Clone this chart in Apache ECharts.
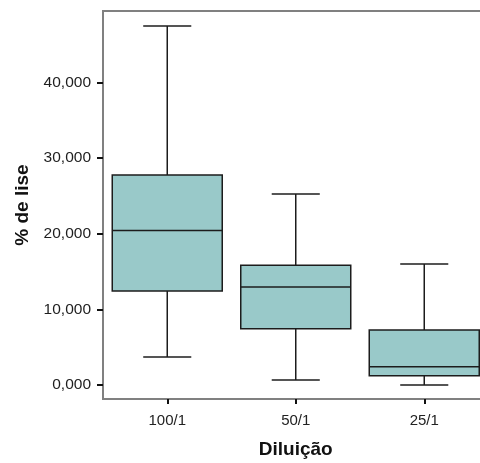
<!DOCTYPE html>
<html>
<head>
<meta charset="utf-8">
<title>% de lise por diluição</title>
<script src="https://cdn.jsdelivr.net/npm/echarts@6/dist/echarts.min.js"></script>
<style>
  html, body { margin: 0; padding: 0; background: #ffffff; }
  #chart { width: 480px; height: 463px; }
</style>
</head>
<body>
<div id="chart"></div>
<script>
// Box plot summary per dilution: whisker ends, quartiles and median (% de lise)
var categories = ['100/1', '50/1', '25/1'];
var whiskerLow  = [3.70, 0.66, 0.00];
var quartile1   = [12.42, 7.44, 1.23];
var medians     = [20.44, 12.95, 2.42];
var quartile3   = [27.75, 15.82, 7.27];
var whiskerHigh = [47.48, 25.24, 15.99];
var yTicks = [0, 10, 20, 30, 40];

var FONT = "'Liberation Sans', Arial, sans-serif";
var BOX_RATIO = 0.856;   // box width as share of the category band
var CAP_RATIO = 0.374;   // whisker cap width as share of the category band
var BOX_FILL = '#99c9c9';
var LINE_COLOR = '#1c1c1c';

var rows = categories.map(function (c, i) {
  return [i, whiskerLow[i], quartile1[i], medians[i], quartile3[i], whiskerHigh[i]];
});

function renderBox(params, api) {
  var x = api.value(0);
  var pLow = api.coord([x, api.value(1)]);
  var pQ1 = api.coord([x, api.value(2)]);
  var pMed = api.coord([x, api.value(3)]);
  var pQ3 = api.coord([x, api.value(4)]);
  var pHigh = api.coord([x, api.value(5)]);
  var band = api.size([1, 0])[0];
  var bh = band * BOX_RATIO / 2;
  var ch = band * CAP_RATIO / 2;
  var cx = pMed[0];
  var stroke = { stroke: LINE_COLOR, lineWidth: 1.5, fill: null };
  return {
    type: 'group',
    children: [
      { type: 'line', shape: { x1: cx, y1: pHigh[1], x2: cx, y2: pQ3[1] }, style: stroke },
      { type: 'line', shape: { x1: cx, y1: pLow[1], x2: cx, y2: pQ1[1] }, style: stroke },
      { type: 'line', shape: { x1: cx - ch, y1: pHigh[1], x2: cx + ch, y2: pHigh[1] }, style: stroke },
      { type: 'line', shape: { x1: cx - ch, y1: pLow[1], x2: cx + ch, y2: pLow[1] }, style: stroke },
      {
        type: 'rect',
        shape: { x: cx - bh, y: pQ3[1], width: bh * 2, height: pQ1[1] - pQ3[1] },
        style: { fill: BOX_FILL, stroke: LINE_COLOR, lineWidth: 1.5 }
      },
      { type: 'line', shape: { x1: cx - bh, y1: pMed[1], x2: cx + bh, y2: pMed[1] }, style: stroke }
    ]
  };
}

var chart = echarts.init(document.getElementById('chart'), null, { renderer: 'canvas' });
chart.setOption({
  backgroundColor: '#ffffff',
  animation: false,
  grid: {
    left: 103, top: 11, width: 385.5, height: 388,
    outerBoundsMode: 'none',
    containLabel: false,
    show: true, borderColor: '#808080', borderWidth: 2, backgroundColor: 'transparent'
  },
  xAxis: {
    type: 'category',
    data: categories,
    boundaryGap: true,
    name: 'Diluição',
    nameLocation: 'middle',
    nameGap: 41,
    nameTextStyle: { fontFamily: FONT, fontSize: 19, fontWeight: 'bold', color: '#111' },
    axisLine: { show: false, onZero: false },
    axisTick: { show: true, alignWithLabel: true, length: 5, lineStyle: { color: '#111', width: 2 } },
    axisLabel: { fontFamily: FONT, fontSize: 15, color: '#222', margin: 14 },
    splitLine: { show: false }
  },
  yAxis: {
    type: 'value',
    min: -1.85,
    max: 49.45,
    name: '% de lise',
    nameLocation: 'middle',
    nameGap: 68,
    nameRotate: 90,
    nameTextStyle: { fontFamily: FONT, fontSize: 19, fontWeight: 'bold', color: '#111' },
    axisLine: { show: false, onZero: false },
    axisTick: { show: true, customValues: yTicks, length: 6, lineStyle: { color: '#111', width: 2 } },
    axisLabel: {
      customValues: yTicks,
      fontFamily: FONT, fontSize: 15.5, color: '#1e1e1e', margin: 12,
      formatter: function (v) { return v.toFixed(3).replace('.', ','); }
    },
    splitLine: { show: false }
  },
  series: [{
    type: 'custom',
    renderItem: renderBox,
    encode: { x: 0, y: [1, 2, 3, 4, 5] },
    data: rows,
    clip: true
  }]
});
</script>
</body>
</html>
